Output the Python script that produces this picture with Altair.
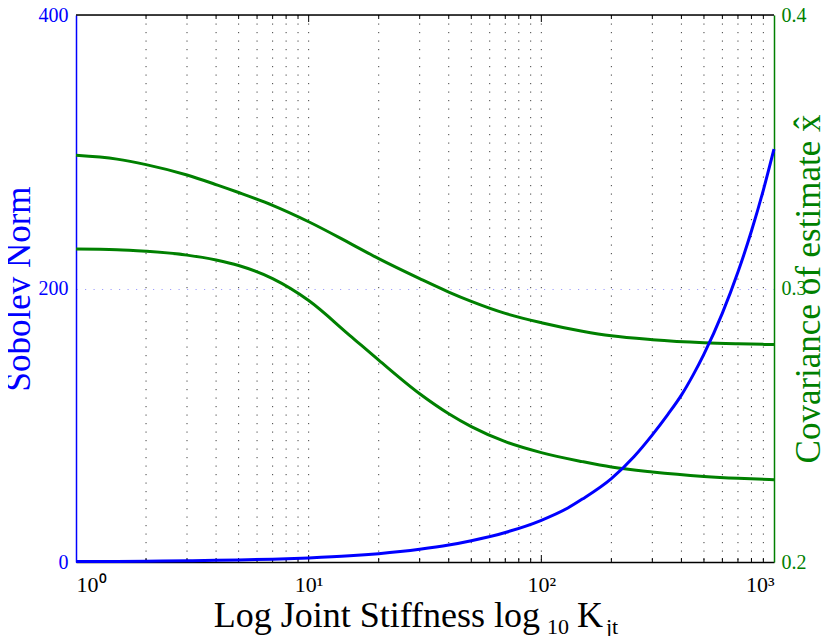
import altair as alt
import pandas as pd

# ---------------- data ----------------
# Sobolev norm (left, blue axis)
blue_k = [1, 1.5, 2, 3, 4, 5, 7, 10, 15, 20, 30, 40, 50, 70, 100, 130, 150,
          200, 250, 300, 350, 400, 450, 500, 600, 700, 800, 900, 1000]
blue_norm = [0.3, 0.45, 0.6, 0.9, 1.2, 1.5, 2.1, 3.0, 4.5, 6.1, 9.3, 12.4, 15.6,
             21.6, 30.5, 39.5, 46, 61, 77, 93, 108, 122, 137, 152, 182, 212,
             242, 272, 302]

# Covariance of estimate (right, green axis)
cov_k = [1, 1.5, 2, 3, 4, 5, 7, 10, 15, 20, 30, 40, 50, 70, 100, 150, 200,
         300, 500, 700, 1000]
cov_upper = [0.3487, 0.3473, 0.3453, 0.3415, 0.3380, 0.3351, 0.3304, 0.3244,
             0.3166, 0.3109, 0.3036, 0.2987, 0.2953, 0.2909, 0.2875, 0.2844,
             0.2827, 0.2813, 0.2802, 0.2798, 0.2795]
cov_lower = [0.3144, 0.3142, 0.3136, 0.3122, 0.3104, 0.3084, 0.3036, 0.2956,
             0.2829, 0.2738, 0.2615, 0.2542, 0.2495, 0.2440, 0.2400, 0.2367,
             0.2347, 0.2329, 0.2313, 0.2306, 0.2301]

x_major = [1, 10, 100, 1000]
x_major_labels = ["10\u2070", "10\u00b9", "10\u00b2", "10\u00b3"]
x_minor = [2, 3, 4, 5, 6, 7, 8, 9, 20, 30, 40, 50, 60, 70, 80, 90,
           200, 300, 400, 500, 600, 700, 800, 900]
left_ticks = [0, 200, 400]
right_ticks = [0.2, 0.3, 0.4]
right_labels = ["0.2", "0.3", "0.4"]

# ---------------- styling ----------------
FONT = "Liberation Serif"
BLUE = "#0000ff"
GREEN = "#008000"
W, H = 698, 547

blue_df = pd.DataFrame({"K": blue_k, "norm": blue_norm})
green_df = pd.DataFrame({
    "K": cov_k * 2,
    "cov": cov_upper + cov_lower,
    "series": ["upper"] * len(cov_k) + ["lower"] * len(cov_k),
})
grid_df = pd.DataFrame({"K": sorted(x_minor + x_major[1:3])})
minor_df = pd.DataFrame({"K": x_minor})
major_df = pd.DataFrame({"K": x_major[1:3]})
frame_df = pd.DataFrame({"K": [x_major[0]], "K2": [x_major[-1]]})


def expr_for(values, labels):
    return " : ".join(
        f"datum.value == {v} ? '{t}'" for v, t in zip(values[:-1], labels[:-1])
    ) + f" : '{labels[-1]}'"


x_scale = alt.Scale(type="log", domain=[x_major[0], x_major[-1]], nice=False)
x_axis = alt.Axis(
    values=x_major, labelExpr=expr_for(x_major, x_major_labels), title=None, grid=False,
    tickSize=0, labelPadding=12, labelFontSize=22, labelFont=FONT,
    labelColor="black", domainColor="black", domainWidth=1.5,
)


def xenc(field="K"):
    return alt.X(f"{field}:Q", scale=x_scale, axis=x_axis)


# vertical dotted grid
vgrid = alt.Chart(grid_df).mark_rule(
    color="black", strokeWidth=1, strokeDash=[1.2, 7.3], opacity=0.75
).encode(x=xenc())

# inward ticks (bottom and top)
tick_layers = []
for df, ln in ((minor_df, 4), (major_df, 7)):
    tick_layers.append(alt.Chart(df).mark_rule(color="black", strokeWidth=1).encode(
        x=xenc(), y=alt.value(H), y2=alt.value(H - ln)))
    tick_layers.append(alt.Chart(df).mark_rule(color="black", strokeWidth=1).encode(
        x=xenc(), y=alt.value(0), y2=alt.value(ln)))

# top frame line
frame = alt.Chart(frame_df).mark_rule(color="black", strokeWidth=1.5).encode(
    x=xenc(), x2="K2:Q", y=alt.value(0))

# x title built from pieces to mimic sub-scripts
title_parts = [
    ("Log Joint Stiffness log", 36, "right", 464, 612),
    ("10", 22, "left", 471, 619),
    ("K", 36, "left", 501, 612),
    ("jt", 22, "left", 530, 619),
]
title_layers = [
    alt.Chart(pd.DataFrame({"t": [t]})).mark_text(
        font=FONT, fontSize=fs, align=al, baseline="alphabetic", color="black"
    ).encode(text="t:N", x=alt.value(xp), y=alt.value(yp))
    for t, fs, al, xp, yp in title_parts
]

green = alt.Chart(green_df).mark_line(
    color=GREEN, strokeWidth=3, interpolate="monotone"
).encode(
    x=xenc(),
    y=alt.Y("cov:Q", scale=alt.Scale(domain=[right_ticks[0], right_ticks[-1]], nice=False, zero=False),
            axis=alt.Axis(
                orient="right", values=right_ticks,
                labelExpr=expr_for(right_ticks, right_labels),
                title="Covariance of estimate x\u0302", titleFont=FONT, titleFontSize=35,
                titleFontWeight="normal", titleColor=GREEN, titleAngle=270,
                titleBaseline="alphabetic", titleAlign="center", titleX=45, titleY=H / 2,
                labelFont=FONT, labelFontSize=20, labelColor=GREEN, labelPadding=7,
                tickSize=0, domainColor=GREEN, domainWidth=1.5, grid=False,
            )),
    detail="series:N",
)

blue = alt.Chart(blue_df).mark_line(
    color=BLUE, strokeWidth=3, interpolate="monotone"
).encode(
    x=xenc(),
    y=alt.Y("norm:Q", scale=alt.Scale(domain=[left_ticks[0], left_ticks[-1]], nice=False),
            axis=alt.Axis(
                orient="left", values=left_ticks,
                title="Sobolev Norm", titleFont=FONT, titleFontSize=35,
                titleFontWeight="normal", titleColor=BLUE, titleAngle=270,
                titleBaseline="alphabetic", titleAlign="center", titleX=-47, titleY=H / 2,
                labelFont=FONT, labelFontSize=20, labelColor=BLUE, labelPadding=8,
                tickSize=0, domainColor=BLUE, domainWidth=1.5,
                grid=True, gridColor="#9f9fff", gridDash=[1.2, 7.3], gridWidth=1,
                gridOpacity={"condition": {"test": "datum.value == 200", "value": 1}, "value": 0},
            )),
)

chart = alt.layer(
    vgrid, *tick_layers, frame, *title_layers, green, blue
).resolve_scale(y="independent").properties(
    width=W, height=H,
    autosize=alt.AutoSizeParams(type="none"),
    padding={"left": 68, "top": 7, "right": 48, "bottom": 74},
).configure_view(stroke=None).configure_axis(
    labelFont=FONT, titleFont=FONT
).configure(background="white")

chart.save("out.html", embed_options={"renderer": "svg", "actions": False})
